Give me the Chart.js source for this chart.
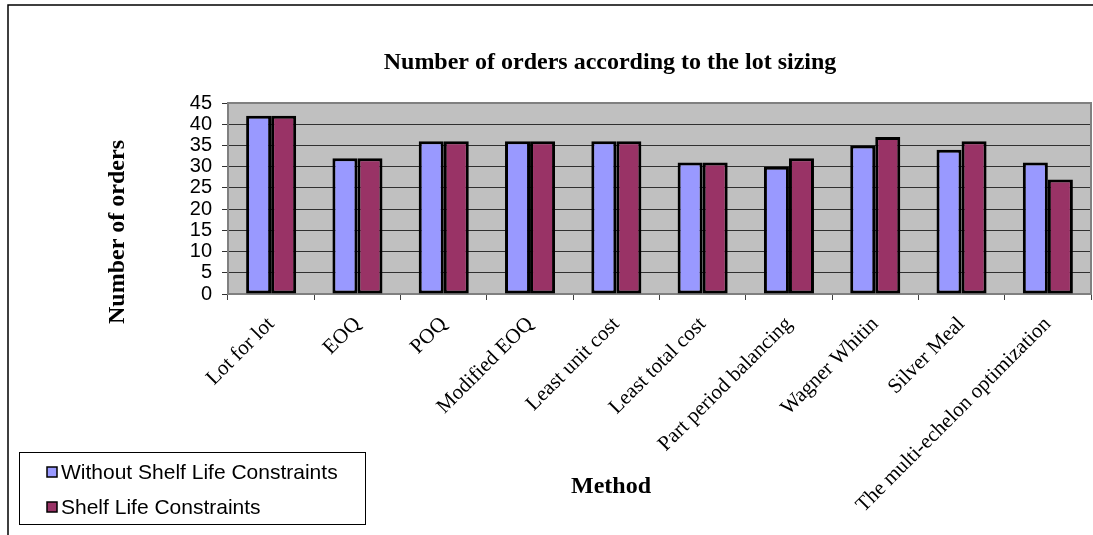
<!DOCTYPE html>
<html>
<head>
<meta charset="utf-8">
<script src="https://cdn.jsdelivr.net/npm/chart.js@4.4.1/dist/chart.umd.min.js"></script>
<style>
  html, body { margin: 0; padding: 0; background: #fff; }
  canvas { display: block; }
</style>
</head>
<body>
<canvas id="myChart" width="1093" height="535"></canvas>
<script>
  'use strict'

  // data
  const methods = [
    'Lot for lot',
    'EOQ',
    'POQ',
    'Modified EOQ',
    'Least unit cost',
    'Least total cost',
    'Part period balancing',
    'Wagner Whitin',
    'Silver Meal',
    'The multi-echelon optimization'
  ]
  const withoutShelfLife = [42, 32, 36, 36, 36, 31, 30, 35, 34, 31]
  const withShelfLife = [42, 32, 36, 36, 36, 31, 32, 37, 36, 27]
  const yTicks = [0, 5, 10, 15, 20, 25, 30, 35, 40, 45]

  const chartTitle = 'Number of orders according to the lot sizing'
  const xTitle = 'Method'
  const yTitle = 'Number of orders'

  const serif = '"Liberation Serif", "Times New Roman", serif'
  const sans = '"Liberation Sans", Arial, sans-serif'

  // grey plot area, outer frame, titles and legend
  const excelLook = {
    id: 'excelLook',
    beforeDraw (chart) {
      const { ctx, chartArea: a } = chart
      ctx.save()
      ctx.fillStyle = '#fff'
      ctx.fillRect(0, 0, chart.width, chart.height)
      ctx.fillStyle = '#c0c0c0'
      ctx.fillRect(a.left, a.top, a.right - a.left, a.bottom - a.top)
      ctx.restore()
    },
    beforeDatasetsDraw (chart) {
      const { ctx, chartArea: a } = chart
      ctx.save()
      ctx.strokeStyle = '#808080'
      ctx.lineWidth = 2
      ctx.strokeRect(a.left, a.top, a.right - a.left, a.bottom - a.top)
      ctx.restore()
    },
    afterDraw (chart) {
      const { ctx } = chart
      ctx.save()

      // outer frame
      ctx.strokeStyle = '#000'
      ctx.lineWidth = 1.5
      ctx.beginPath()
      ctx.moveTo(8, chart.height)
      ctx.lineTo(8, 5)
      ctx.lineTo(chart.width, 5)
      ctx.stroke()

      ctx.fillStyle = '#000'
      ctx.textAlign = 'center'
      ctx.textBaseline = 'middle'
      ctx.font = 'bold 24px ' + serif
      ctx.fillText(chartTitle, 610, 63)
      ctx.fillText(xTitle, 611, 487)

      ctx.save()
      ctx.translate(118, 232)
      ctx.rotate(-Math.PI / 2)
      ctx.fillText(yTitle, 0, 0)
      ctx.restore()

      // legend
      ctx.strokeStyle = '#000'
      ctx.lineWidth = 1
      ctx.strokeRect(19.5, 452.5, 346, 72)
      ctx.font = '21px ' + sans
      ctx.textAlign = 'left'
      chart.data.datasets.forEach((ds, i) => {
        const y = 472 + i * 35
        ctx.fillStyle = ds.backgroundColor
        ctx.fillRect(47, y - 5, 10, 10)
        ctx.lineWidth = 1.5
        ctx.strokeRect(47, y - 5, 10, 10)
        ctx.fillStyle = '#000'
        ctx.fillText(ds.label, 61, y + 1)
      })
      ctx.restore()
    }
  }

  const ctx = document.getElementById('myChart')
  const myChart = new Chart(ctx, {
    type: 'bar',
    data: {
      labels: methods,
      datasets: [{
        label: 'Without Shelf Life Constraints',
        data: withoutShelfLife,
        backgroundColor: '#9999ff',
        borderColor: '#000',
        borderWidth: 3,
        borderSkipped: false
      }, {
        label: 'Shelf Life Constraints',
        data: withShelfLife,
        backgroundColor: '#993366',
        borderColor: '#000',
        borderWidth: 3,
        borderSkipped: false
      }]
    },
    options: {
      responsive: false,
      animation: false,
      events: [],
      categoryPercentage: 0.58,
      barPercentage: 1,
      layout: {
        padding: { top: 103, right: 2, left: 0, bottom: 0 }
      },
      scales: {
        x: {
          grid: {
            offset: true,
            drawOnChartArea: false,
            color: '#404040',
            tickLength: 6
          },
          border: { color: '#404040', width: 1 },
          ticks: {
            autoSkip: false,
            minRotation: 45,
            maxRotation: 45,
            color: '#000',
            padding: 12,
            font: { family: serif, size: 21 }
          },
          afterFit (scale) {
            scale.height = 535 - 294
          }
        },
        y: {
          min: 0,
          max: 45,
          afterBuildTicks (scale) {
            scale.ticks = yTicks.map(v => ({ value: v }))
          },
          grid: {
            color: '#303030',
            lineWidth: 1,
            tickLength: 6
          },
          border: { color: '#404040', width: 2 },
          ticks: {
            autoSkip: false,
            color: '#000',
            padding: 10,
            font: { family: sans, size: 20 }
          },
          afterFit (scale) {
            scale.width = 228
          }
        }
      },
      plugins: {
        legend: { display: false },
        title: { display: false },
        tooltip: { enabled: false }
      }
    },
    plugins: [excelLook]
  })
</script>
</body>
</html>
